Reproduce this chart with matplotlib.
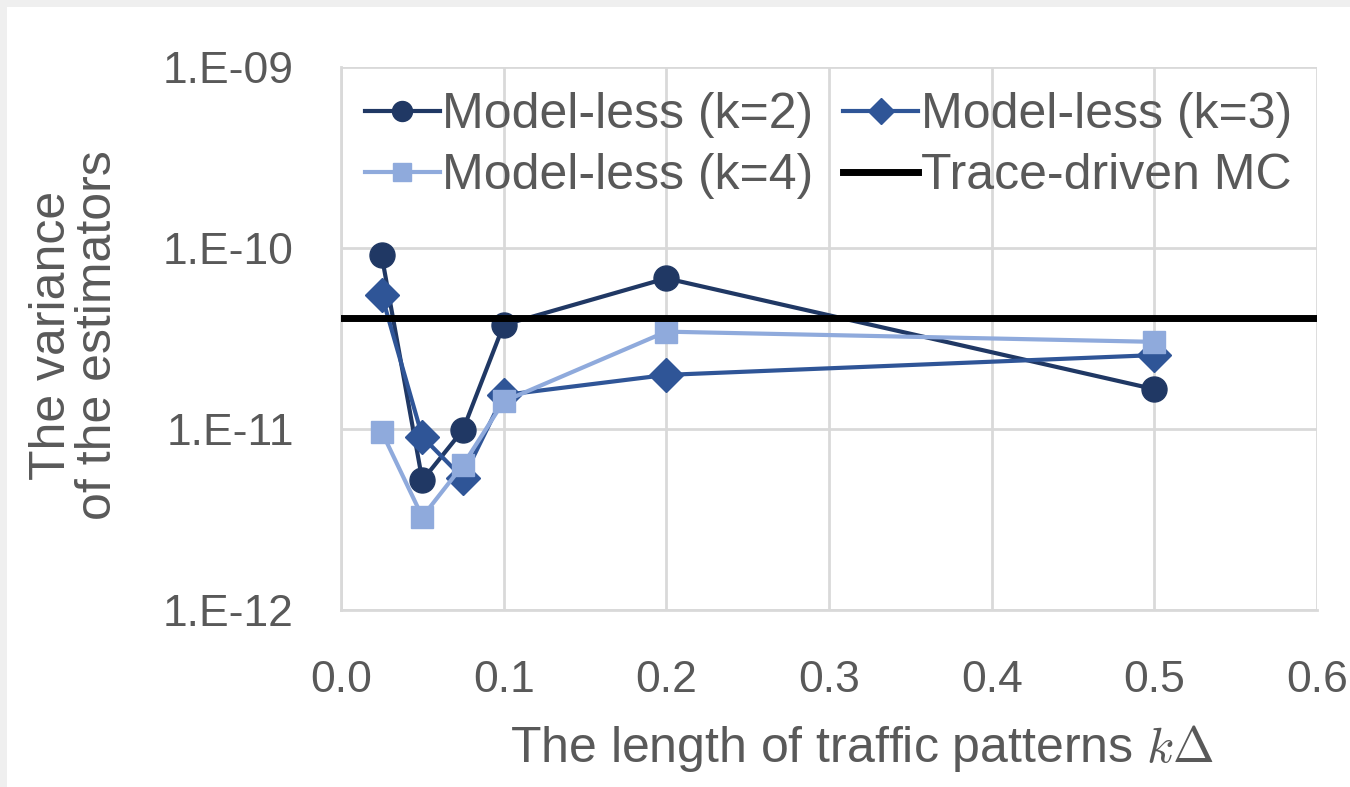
import math
import matplotlib.pyplot as plt
from matplotlib.patches import Rectangle
from matplotlib.ticker import FixedLocator, FuncFormatter, NullLocator

plt.rcParams['font.family'] = ['Liberation Sans', 'DejaVu Sans']
plt.rcParams['mathtext.fontset'] = 'cm'

# data
x = [0.025, 0.05, 0.075, 0.1, 0.2, 0.5]
k2 = [9.1e-11, 5.2e-12, 9.9e-12, 3.76e-11, 6.8e-11, 1.66e-11]
k3 = [5.5e-11, 9.06e-12, 5.35e-12, 1.54e-11, 1.99e-11, 2.56e-11]
k4 = [9.66e-12, 3.27e-12, 6.33e-12, 1.42e-11, 3.45e-11, 3.03e-11]
mc = 4.1e-11

txt = '#595959'
grid = '#d9d9d9'

fig = plt.figure(figsize=(13.5, 7.87), dpi=100)
fig.patch.set_facecolor('#efefef')
fig.patches.append(Rectangle((7/1350, 0), 1, 1 - 7/787, transform=fig.transFigure,
                             facecolor='white', edgecolor='none', zorder=-5))

ax = fig.add_axes([341/1350, 1 - 610/787, 976/1350, 543/787])
ax.set_zorder(2)
ax.set_facecolor('white')

l2, = ax.plot(x, k2, color='#203864', lw=3, marker='o', ms=18, label='Model-less (k=2)', zorder=3)
l3, = ax.plot(x, k3, color='#2F5597', lw=3, marker='D', ms=17, label='Model-less (k=3)', zorder=3)
l4, = ax.plot(x, k4, color='#8FAADC', lw=3, marker='s', ms=16, label='Model-less (k=4)', zorder=3)
lmc = ax.axhline(mc, color='black', lw=5, label='Trace-driven MC', zorder=4)

ax.set_yscale('log')
ax.set_ylim(1e-12, 1e-9)
ax.set_xlim(0, 0.6)
ax.xaxis.set_major_locator(FixedLocator([0, 0.1, 0.2, 0.3, 0.4, 0.5, 0.6]))
ax.xaxis.set_major_formatter(FuncFormatter(lambda v, p: '%.1f' % v))
ax.yaxis.set_major_locator(FixedLocator([1e-12, 1e-11, 1e-10, 1e-9]))
ax.yaxis.set_minor_locator(NullLocator())
ax.yaxis.set_major_formatter(FuncFormatter(lambda v, p: '1.E-%02d' % round(-math.log10(v))))
ax.grid(True, color=grid, lw=2)
ax.set_axisbelow(True)
for s in ax.spines.values():
    s.set_color(grid)
    s.set_linewidth(2)
ax.spines['top'].set_visible(False)
ax.spines['right'].set_visible(False)
ax.tick_params(length=0, labelsize=32, labelcolor=txt)
ax.tick_params(axis='y', pad=34)
ax.tick_params(axis='x', pad=36)

# row order like the original: k=2, k=3 / k=4, MC
handles = [l2, l4, l3, lmc]
ax.legend(handles, [h.get_label() for h in handles], ncol=2, loc='upper right',
          bbox_to_anchor=(1.0, 1.0), frameon=False, fontsize=36,
          labelcolor=txt, handlelength=1.5, handletextpad=0.05, columnspacing=0.6,
          borderaxespad=0.1, labelspacing=0.3, markerscale=0.8)

fig.text(862/1350, 1 - 748/787, r'The length of traffic patterns $k\Delta$', fontsize=36,
         color=txt, ha='center', va='center')
fig.text(75/1350, 1 - 335/787, 'The variance\nof the estimators', fontsize=36, color=txt,
         ha='center', va='center', rotation=90, multialignment='center', linespacing=1.0)

fig.savefig('out.png', dpi=100, facecolor=fig.get_facecolor())
